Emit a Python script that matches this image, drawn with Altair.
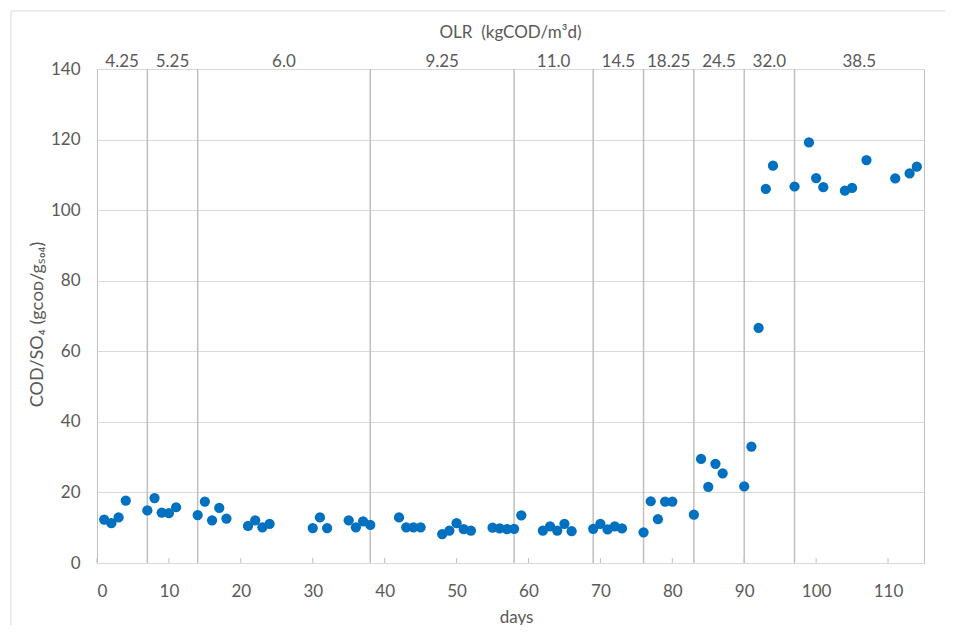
import altair as alt
import pandas as pd

# --- data ---
days = [1, 2, 3, 4, 7, 8, 9, 10, 11, 14, 15, 16, 17, 18, 21, 22, 23, 24, 30, 31, 32,
        35, 36, 37, 38, 42, 43, 44, 45, 48, 49, 50, 51, 52, 55, 56, 57, 58, 59,
        62, 63, 64, 65, 66, 69, 70, 71, 72, 73, 76, 77, 78, 79, 80, 83, 84, 85, 86, 87,
        90, 91, 92, 93, 94, 97, 99, 100, 101, 104, 105, 107, 111, 113, 114]
cod_so4 = [12.3, 11.3, 12.9, 17.7, 14.9, 18.4, 14.3, 14.1, 15.8, 13.6, 17.4, 12.1, 15.6, 12.6,
           10.5, 12.1, 10.1, 11.1, 9.9, 12.9, 9.9, 12.1, 10.1, 11.8, 10.8, 12.9, 10.1, 10.1, 10.1,
           8.2, 9.2, 11.3, 9.6, 9.2, 10.0, 9.8, 9.6, 9.7, 13.5, 9.2, 10.4, 9.2, 11.1, 9.0,
           9.7, 11.1, 9.5, 10.4, 9.8, 8.7, 17.5, 12.4, 17.4, 17.4, 13.7, 29.5, 21.6, 28.1, 25.4,
           21.7, 33.0, 66.6, 106.0, 112.6, 106.7, 119.2, 109.1, 106.5, 105.5, 106.3, 114.2,
           109.0, 110.4, 112.3]

olr_bounds = [0, 7, 14, 38, 58, 69, 76, 83, 90, 97, 115]
olr_labels = ["4.25", "5.25", "6.0", "9.25", "11.0", "14.5", "18.25", "24.5", "32.0", "38.5"]
x_ticks = [0, 10, 20, 30, 40, 50, 60, 70, 80, 90, 100, 110]
y_ticks = [0, 20, 40, 60, 80, 100, 120, 140]

W, H = 827, 494
FONT = "Lato"
GREY = "#595959"

pts = pd.DataFrame({"day": days, "ratio": cod_so4})
sep = pd.DataFrame({"day": olr_bounds[1:-1]})
ticks = pd.DataFrame({"day": x_ticks})
olr = pd.DataFrame({
    "day": [(a + b) / 2 for a, b in zip(olr_bounds[:-1], olr_bounds[1:])],
    "label": olr_labels,
})
one = pd.DataFrame({"k": [0]})

xscale = alt.Scale(domain=[0, 115], nice=False, zero=False)
yscale = alt.Scale(domain=[0, 140], nice=False)

border = alt.Chart(one).mark_rect(
    fillOpacity=0, stroke="#d9d9d9", strokeWidth=1
).encode(
    x=alt.value(-86), y=alt.value(-58), x2=alt.value(2000), y2=alt.value(2000)
)

separators = alt.Chart(sep).mark_rule(color="#bfbfbf", strokeWidth=1.5).encode(
    x=alt.X("day:Q", scale=xscale),
    y=alt.value(0),
    y2=alt.value(H),
)

tick_marks = alt.Chart(ticks).mark_rule(color="#bfbfbf", strokeWidth=1).encode(
    x=alt.X("day:Q", scale=xscale),
    y=alt.value(H),
    y2=alt.value(H - 5),
)

points = alt.Chart(pts).mark_circle(size=105, color="#0070C0", opacity=1).encode(
    x=alt.X("day:Q", scale=xscale,
            axis=alt.Axis(values=x_ticks, title="days", grid=False, ticks=False,
                          tickSize=0, domain=False, labelPadding=20, titlePadding=10,
                          titleX=419)),
    y=alt.Y("ratio:Q", scale=yscale,
            axis=alt.Axis(values=y_ticks, title="COD/SO₄ (gᴄᴏᴅ/gₛₒ₄)", grid=True,
                          ticks=False, tickSize=0, domain=False, labelPadding=17,
                          titlePadding=4, titleFontSize=18, titleY=255)),
)

olr_text = alt.Chart(olr).mark_text(
    font=FONT, fontSize=17, color=GREY, baseline="alphabetic", align="center"
).encode(
    x=alt.X("day:Q", scale=xscale),
    y=alt.value(-2),
    text="label:N",
)

olr_title = alt.Chart(one).mark_text(
    font=FONT, fontSize=17, color=GREY, baseline="middle", align="center",
    text="OLR\u00a0 (kgCOD/m³d)"
).encode(
    x=alt.value(W / 2),
    y=alt.value(-36),
)

chart = alt.layer(
    border, separators, tick_marks, points, olr_text, olr_title
).properties(
    width=W, height=H,
    autosize=alt.AutoSizeParams(type="none"),
    padding={"left": 89, "top": 61, "right": 21, "bottom": 62},
).configure_view(
    stroke="#bfbfbf", strokeWidth=1
).configure_axis(
    labelFont=FONT, labelFontSize=17, labelColor=GREY,
    titleFont=FONT, titleFontSize=17, titleColor=GREY, titleFontWeight="normal",
    gridColor="#d9d9d9", gridWidth=1,
)

chart.save("out.html", embed_options={"renderer": "svg", "actions": False})
